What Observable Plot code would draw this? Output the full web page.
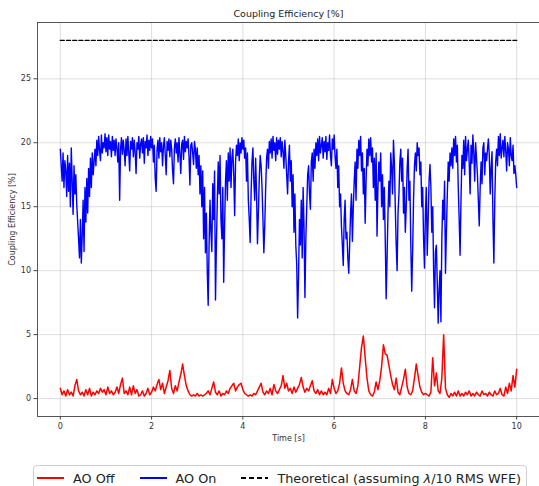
<!DOCTYPE html>
<html><head><meta charset="utf-8">
<script src="https://cdn.jsdelivr.net/npm/d3@7"></script>
<script src="https://cdn.jsdelivr.net/npm/@observablehq/plot@0.6"></script>
<style>
body{margin:0;background:#fff;font-family:"DejaVu Sans",sans-serif;color:#222}
#legend{position:absolute;left:33px;top:465px;width:494px;height:28px;border:1px solid #cfcfcf;border-radius:4px;box-sizing:border-box;display:flex;align-items:center;font-size:12.8px;background:#fff;white-space:nowrap;padding-left:3px;padding-bottom:2px}
#legend .item{display:flex;align-items:center;flex-shrink:0;margin-right:25px}
#legend svg{margin-right:9px;flex-shrink:0}
</style>
</head><body><div id="chart"></div><div id="legend"></div><script>
const onStep = 0.02;
const offStep = 0.04;
const aoOn = [
19.5,18.2,17.0,19.2,16.5,18.6,17.8,15.8,19.0,16.2,
18.4,15.0,19.6,17.0,14.4,18.2,16.0,17.5,15.2,13.8,
12.5,11.0,14.0,10.6,12.8,15.5,11.5,16.5,13.8,17.2,
14.5,18.0,15.8,18.8,16.5,19.2,17.5,18.5,19.5,18.2,
20.2,19.0,20.5,19.4,18.6,20.6,19.2,20.0,19.6,20.7,
19.3,20.4,19.0,20.6,19.5,20.1,18.9,20.5,19.4,20.2,
19.0,20.3,19.6,18.5,20.0,15.5,19.5,20.4,19.1,20.2,
19.4,18.2,20.3,19.0,20.5,19.2,17.8,20.1,19.5,20.4,
18.9,20.2,19.3,17.6,20.0,19.5,20.5,18.8,19.9,20.3,
19.2,20.4,18.4,20.1,19.6,20.6,19.0,20.2,19.4,20.5,
19.6,20.3,18.5,19.8,17.2,16.2,19.5,20.2,18.8,20.4,
19.3,20.0,18.2,19.7,20.4,19.0,17.5,20.1,19.4,20.3,
18.9,20.2,19.5,17.8,16.8,19.6,20.3,19.2,20.0,18.5,
20.4,19.1,17.6,19.9,20.2,18.7,20.5,19.3,20.1,19.6,
20.3,18.9,16.7,19.8,20.0,19.2,18.3,20.1,19.5,18.0,
19.6,17.5,19.0,16.0,18.2,15.0,17.8,12.5,16.5,11.4,
14.5,10.0,7.3,12.0,15.5,13.0,11.5,16.8,14.0,17.8,
7.7,12.0,15.5,18.5,16.0,19.0,14.0,12.5,16.5,9.1,
13.5,17.0,18.6,15.5,19.2,17.0,19.6,16.5,18.8,19.5,
17.5,14.3,18.5,19.8,19.0,20.3,18.6,20.0,19.2,20.4,
19.5,20.2,18.8,19.6,17.0,19.2,15.5,14.0,12.2,16.0,
18.5,19.6,17.0,15.5,18.8,16.0,12.1,14.5,17.2,19.0,
18.2,16.5,14.0,11.4,13.5,16.5,18.8,19.5,18.0,20.1,
19.2,20.3,18.8,20.5,19.4,20.0,18.6,20.4,19.1,20.2,
19.5,20.4,18.9,20.1,19.3,18.0,20.2,19.0,17.5,16.0,
18.5,19.8,17.0,18.6,15.0,17.5,13.0,16.0,12.0,10.5,
6.3,9.5,14.0,12.0,15.5,11.0,16.5,13.5,7.9,12.5,
15.0,17.5,18.2,16.0,14.8,18.5,19.2,17.0,19.5,18.0,
20.0,19.0,20.3,18.6,20.5,19.2,19.8,20.4,18.8,20.1,
19.3,20.5,18.7,20.0,19.4,20.6,19.0,18.2,20.3,19.5,
20.6,19.0,18.0,19.5,16.5,18.2,15.0,16.0,13.5,12.0,
10.4,14.0,15.5,12.5,13.0,11.0,9.8,12.0,14.5,16.0,
12.3,15.0,17.0,18.5,15.5,19.5,18.0,20.2,19.0,20.5,
17.8,19.2,16.0,18.0,13.7,17.0,19.5,18.2,20.3,19.0,
20.4,18.5,19.6,16.5,18.8,15.5,19.2,12.7,16.5,18.5,
17.0,19.2,15.0,17.5,14.0,16.5,12.5,7.8,11.0,14.5,
17.0,15.0,19.2,18.0,16.0,20.2,18.5,15.0,12.0,10.0,
14.5,16.0,18.5,19.5,17.0,18.8,14.5,16.5,13.0,15.0,
18.0,19.5,15.5,17.0,12.0,8.4,11.5,15.5,18.2,19.2,
17.8,20.0,19.0,19.6,17.5,18.5,15.0,16.5,12.5,10.2,
14.5,16.5,11.2,14.0,17.0,18.3,16.5,13.0,15.0,10.0,
7.1,11.5,12.0,9.0,5.9,8.5,10.0,6.0,12.5,15.5,
14.0,17.0,9.8,13.0,16.0,18.5,17.0,19.2,18.2,19.6,
18.0,20.3,19.0,20.5,18.5,19.8,16.5,14.0,11.2,15.5,
19.0,18.0,20.2,17.5,20.5,18.6,19.5,20.2,18.4,16.0,
19.8,18.4,20.6,19.2,17.0,20.0,18.8,17.5,15.5,13.5,
16.5,18.5,16.8,19.6,20.0,17.5,19.2,18.6,19.5,20.3,
19.0,16.0,18.0,19.3,14.0,10.6,15.5,18.5,19.5,18.2,
20.5,19.0,20.7,18.8,19.6,20.2,18.9,20.5,19.4,17.8,
20.0,19.5,18.2,20.4,19.0,18.6,19.8,17.6,18.2,17.5,
16.5
];
const aoOff = [
0.8,0.3,0.6,0.2,0.7,0.3,0.5,0.2,1.0,1.5,
0.6,0.3,0.5,0.2,0.7,0.3,0.8,0.2,0.5,0.3,
0.6,0.4,0.8,0.5,0.7,0.3,0.9,0.4,0.6,0.3,
0.5,0.9,0.4,1.1,1.6,0.4,0.6,0.3,0.9,0.3,
1.0,0.4,0.7,0.2,0.3,0.6,0.2,0.4,0.8,0.3,
0.5,0.9,0.6,1.1,1.5,0.7,1.2,0.4,0.9,1.4,
2.2,0.8,0.4,1.0,0.6,1.3,1.9,2.7,1.8,1.0,
0.6,0.3,0.2,0.3,0.2,0.4,0.2,0.3,0.2,0.3,
0.4,0.6,0.3,0.8,1.3,0.5,0.3,0.6,0.2,0.4,
0.3,0.6,0.4,0.8,1.0,1.2,0.6,0.9,1.1,1.2,
0.7,0.4,0.3,0.2,0.3,0.2,0.4,0.3,0.6,0.9,
1.2,0.5,0.3,0.6,0.4,0.8,0.3,1.1,0.6,0.4,
0.7,1.0,1.8,0.8,1.2,0.6,0.8,0.4,0.9,0.5,
0.8,1.1,1.65,0.9,0.5,0.8,0.6,1.0,1.4,0.6,
0.4,0.7,0.3,0.6,0.3,0.5,0.3,0.8,0.4,1.5,
0.8,0.4,0.6,1.2,2.4,1.2,0.6,0.4,0.3,0.7,
1.5,0.6,0.4,1.0,2.5,4.0,4.9,3.2,1.6,0.6,
0.3,0.2,0.5,1.3,0.7,1.4,2.5,4.2,3.5,3.4,
2.6,1.8,1.1,0.7,1.6,0.5,0.3,0.9,1.5,2.3,
0.9,0.4,0.3,0.6,1.6,2.7,1.8,0.9,0.5,0.3,
0.4,0.3,0.2,0.5,3.2,1.0,2.0,0.6,0.4,1.6,
5.0,0.8,0.3,0.1,0.4,0.2,0.5,0.2,0.6,0.2,
0.4,0.2,0.5,0.3,0.6,0.2,0.4,0.2,0.5,0.3,
0.2,0.6,0.3,0.4,0.2,0.5,0.3,0.2,0.6,0.3,
0.4,0.8,0.3,0.2,0.9,0.4,1.2,0.6,1.8,0.9,2.3
];
const theoreticalValue = 28;
const theoreticalRange = [0, 10];
const xTicks = [0, 2, 4, 6, 8, 10];
const yTicks = [0, 5, 10, 15, 20, 25];
const titleText = "Coupling Efficiency [%]";
const xLabel = "Time [s]";
const yLabel = "Coupling Efficiency [%]";
const seriesNames = ["AO Off", "AO On", "Theoretical (assuming λ/10 RMS WFE)"];
const seriesColors = ["#ff0000", "#0000ff", "#000000"];

const onData = aoOn.map((v, i) => ({t: i * onStep, v}));
const offData = aoOff.map((v, i) => ({t: i * offStep, v}));
const theoData = theoreticalRange.map(t => ({t, v: theoreticalValue}));

const chart = Plot.plot({
  width: 539,
  height: 458,
  marginLeft: 37,
  marginRight: 0,
  marginTop: 22,
  marginBottom: 42,
  style: {fontFamily: "DejaVu Sans, sans-serif", fontSize: "8px", color: "#333", background: "#fff"},
  x: {domain: [-0.5, 10.5]},
  y: {domain: [-1.4, 29.4]},
  marks: [
    Plot.gridX(xTicks, {stroke: "#b0b0b0", strokeOpacity: 0.5, strokeWidth: 0.8}),
    Plot.gridY(yTicks, {stroke: "#b0b0b0", strokeOpacity: 0.5, strokeWidth: 0.8}),
    Plot.line(theoData, {x: "t", y: "v", stroke: seriesColors[2], strokeWidth: 1.3, strokeDasharray: "4,2.2"}),
    Plot.line(offData, {x: "t", y: "v", stroke: seriesColors[0], strokeWidth: 1.5}),
    Plot.line(onData, {x: "t", y: "v", stroke: seriesColors[1], strokeWidth: 1.4}),
    Plot.frame({stroke: "#444", strokeWidth: 0.9}),
    Plot.axisX(xTicks, {tickSize: 3.5, tickPadding: 3, label: xLabel, labelAnchor: "center", labelArrow: "none", labelOffset: 24, fill: "#333", stroke: "#444"}),
    Plot.axisY(yTicks, {tickSize: 3.5, tickPadding: 3, label: yLabel, labelAnchor: "center", labelArrow: "none", labelOffset: 28, fill: "#333", stroke: "#444"}),
    Plot.text([titleText], {frameAnchor: "top", dy: -12, fontSize: 9.5, fill: "#222"})
  ]
});
document.getElementById("chart").appendChild(chart);

// legend
const legend = d3.select("#legend");
seriesNames.forEach((name, i) => {
  const item = legend.append("div").attr("class", "item");
  const s = item.append("svg").attr("width", 27).attr("height", 10);
  s.append("line").attr("x1", 0).attr("x2", 27).attr("y1", 5).attr("y2", 5)
    .attr("stroke", seriesColors[i]).attr("stroke-width", 2)
    .attr("stroke-dasharray", i === 2 ? "5,3" : null);
  const span = item.append("span");
  if (name.includes("λ")) {
    const parts = name.split("λ");
    span.append("span").text(parts[0]);
    span.append("span").style("font-style", "italic").text("λ");
    span.append("span").text(parts[1]);
  } else span.text(name);
});
</script></body></html>
